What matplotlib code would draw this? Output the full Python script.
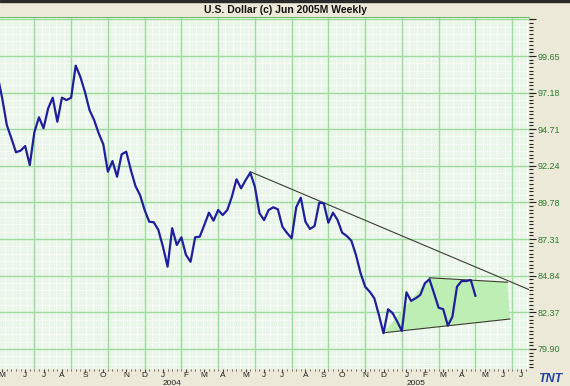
import numpy as np
import pandas as pd
import matplotlib
matplotlib.use('Agg')
import matplotlib.pyplot as plt
from matplotlib.patches import Rectangle

plt.rcParams['font.family'] = ['Liberation Sans', 'DejaVu Sans']

# weekly closes, first bar = week ending 25 Apr 2003
first_week = '2003-04-25'
close = [98.32, 96.80, 95.00, 94.10, 93.16, 93.27, 93.58, 92.30, 94.51, 95.52,
         94.78, 96.12, 96.84, 95.22, 96.84, 96.68, 96.84, 99.00,
         98.25, 97.24, 96.01, 95.34, 94.44, 93.70, 91.85, 92.57, 91.51, 93.02, 93.20,
         91.97, 90.89, 90.28, 89.27, 88.48, 88.44, 87.92, 86.78, 85.45,
         88.04, 86.91, 87.43, 86.24, 85.78, 87.43, 87.47, 88.26, 89.09, 88.55,
         89.27, 88.93, 89.27, 90.17, 91.34, 90.73, 91.29, 91.78,
         90.84, 89.05, 88.59, 89.27, 89.45, 89.32, 88.14, 87.72, 87.36, 89.45,
         90.10, 88.48, 87.99, 88.19, 89.76, 89.72, 88.41, 89.09, 88.59, 87.74,
         87.52, 87.20, 86.24, 85.02, 84.10, 83.76, 83.32, 82.19, 80.96,
         82.58, 82.31, 81.74, 81.11, 83.72, 83.14, 83.32, 83.54, 84.33, 84.60,
         83.65, 82.68, 82.58, 81.47, 82.08, 84.10, 84.48, 84.48, 84.55, 83.49]

ytick_vals = [79.90, 82.37, 84.84, 87.31, 89.78, 92.24, 94.71, 97.18, 99.65, 102.12]
ytick_labels = ['79.90', '82.37', '84.84', '87.31', '89.78', '92.24', '94.71',
                '97.18', '99.65', '']

# hand drawn trend lines (week number, value)
resist_wk = [55, 116]
resist_val = [91.85, 83.86]
tri_top_wk = [94, 111]
tri_top_val = [84.70, 84.40]
tri_bot_wk = [84, 111.5]
tri_bot_val = [80.99, 81.92]

n_weeks = 117  # axis runs past the data into July 2005
dates = pd.date_range(first_week, periods=n_weeks, freq='W-FRI')
x = np.arange(len(close))

fig = plt.figure(figsize=(5.7, 3.86), dpi=100, facecolor='#ece9d8')
ax = fig.add_axes([0, 1 - 369 / 386, 529 / 570, 352 / 386])
ax.set_facecolor('#ebf6eb')

# background grid: white dotted minor, green major
step = ytick_vals[1] - ytick_vals[0]
for v in np.arange(ytick_vals[0] - step, ytick_vals[-1] + step, step / 5):
    ax.axhline(v, color='white', lw=0.8, ls=(0, (1, 1)), zorder=0)
for w in np.arange(0, 117, 8 / 5):
    ax.axvline(w, color='white', lw=0.8, ls=(0, (1, 1)), zorder=0)
for v in ytick_vals:
    ax.axhline(v, color='#9ddc9d', lw=1.0, zorder=0.5)
for w in range(8, 116, 8):
    ax.axvline(w, color='#9ddc9d', lw=1.0, zorder=0.5)

# triangle shading
ax.fill([tri_bot_wk[0], tri_top_wk[0], tri_top_wk[1], tri_bot_wk[1]],
        [tri_bot_val[0], tri_top_val[0], tri_top_val[1], tri_bot_val[1]],
        color='#bdefb5', lw=0, zorder=1)
ax.plot(tri_top_wk, tri_top_val, color='#3c3c30', lw=0.8, zorder=2)
ax.plot(tri_bot_wk, tri_bot_val, color='#3c3c30', lw=0.8, zorder=2)
ax.plot(resist_wk, resist_val, color='#3c3c30', lw=0.8, zorder=2)

ax.plot(x, close, color='#1f1f9c', lw=1.6, solid_joinstyle='round', zorder=3)

# right price axis
ax.yaxis.tick_right()
ax.set_yticks(ytick_vals)
ax.set_yticklabels(ytick_labels)
ax.set_yticks(np.arange(ytick_vals[0] - step, ytick_vals[-1] + step, step / 10), minor=True)
ax.tick_params(axis='y', which='major', length=5, width=0.8, color='#222222',
               labelsize=6.5, labelcolor='#2f7a2f', pad=1)
ax.tick_params(axis='y', which='minor', length=3, width=0.8, color='#222222')

# month letters along the bottom
month_idx = [i for i in range(1, n_weeks) if dates[i].month != dates[i - 1].month]
month_lab = [dates[i].strftime('%b')[0] for i in month_idx]
ax.set_xticks(month_idx)
ax.set_xticklabels(month_lab)
ax.set_xticks(range(n_weeks), minor=True)
ax.tick_params(axis='x', which='major', length=2, width=0.8, color='#444444',
               labelsize=6, labelcolor='#222222', pad=0.3)
ax.tick_params(axis='x', which='minor', length=1.2, width=0.6, color='#555555')
for i in month_idx:
    if dates[i].month == 1:
        ax.text(i, -0.031, str(dates[i].year), transform=ax.get_xaxis_transform(),
                ha='left', va='top', fontsize=6, color='#222222')

ax.set_xlim(0.52, 115.67)
ax.set_ylim(78.55, 102.28)

for s in ['left', 'right', 'bottom']:
    ax.spines[s].set_visible(False)
ax.spines['top'].set_color('#6fbf6f')

# title bar
fig.patches.append(Rectangle((0, 1 - 2 / 386), 1, 2 / 386, transform=fig.transFigure,
                             color='#2a2a2a', zorder=5))
fig.text(0.5, 1 - 10 / 386, 'U.S. Dollar (c) Jun 2005M Weekly', ha='center', va='center',
         fontsize=7.5, weight='bold', color='#111111')
fig.text(0.965, 1 - 379 / 386, 'TNT', ha='center', va='center', fontsize=9,
         weight='bold', style='italic', color='#24449a')

fig.savefig('out.png', dpi=100, facecolor=fig.get_facecolor())
